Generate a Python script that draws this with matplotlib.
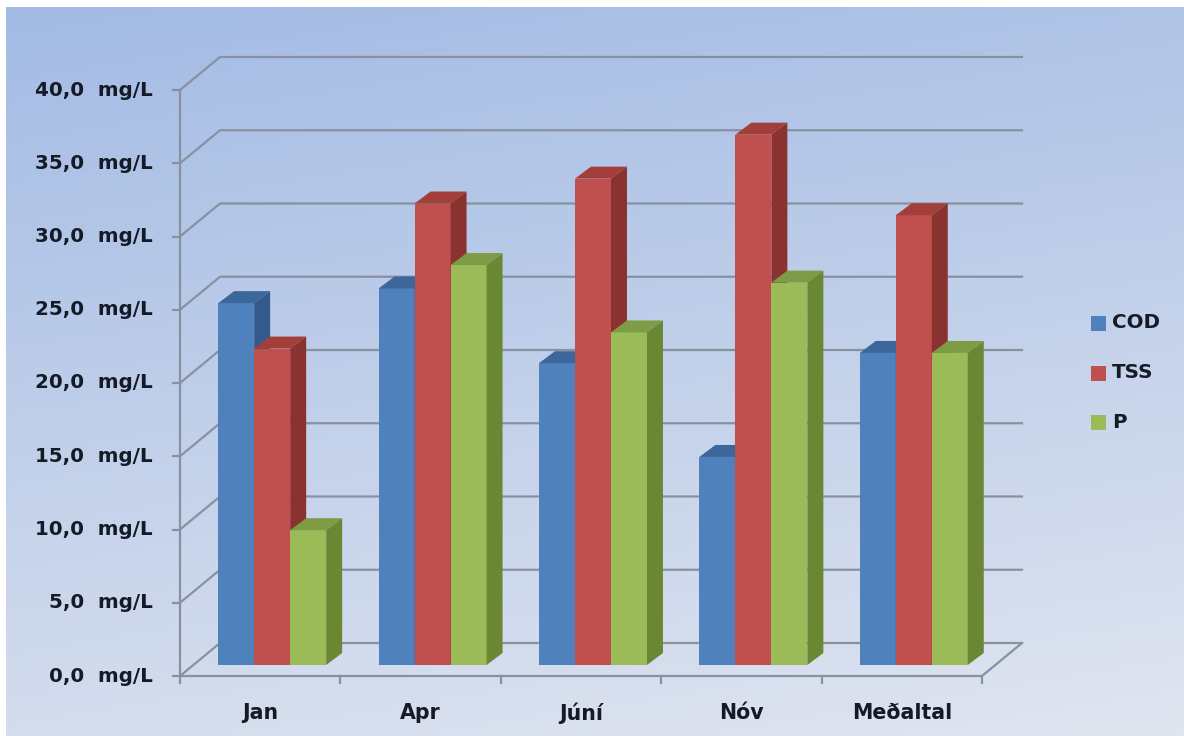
import numpy as np
import matplotlib
matplotlib.use("Agg")
import matplotlib.pyplot as plt
from matplotlib.patches import Polygon, Rectangle

# -----------------------------------------------------------------------------
# data (mg/L)
# -----------------------------------------------------------------------------
categories = ["Jan", "Apr", "Júní", "Nóv", "Meðaltal"]
series = ["COD", "TSS", "P"]
cod = [24.7, 25.7, 20.6, 14.2, 21.3]
tss = [21.6, 31.5, 33.2, 36.2, 30.7]
p_vals = [9.2, 27.3, 22.7, 26.1, 21.3]
y_ticks = [0, 5, 10, 15, 20, 25, 30, 35, 40]

front_col = ["#4f81bd", "#c0504d", "#9bbb59"]
top_col = ["#3c679b", "#a33f3b", "#7e9c45"]
side_col = ["#335a8a", "#8a322f", "#6a8734"]

# -----------------------------------------------------------------------------
# pseudo 3D geometry (x: category units, y: value units)
# -----------------------------------------------------------------------------
PX_X = 160.4      # px per category
PX_Y = 14.65      # px per mg/L
X0, Y0 = 180, 676  # pixel of origin on front plane

WDX, WDY = 40 / PX_X, 33 / PX_Y     # wall depth
BDX, BDY = 16 / PX_X, 12 / PX_Y     # bar depth
FDX, FDY = 13.3 / PX_X, 11 / PX_Y   # bar front offset from floor front edge
BAR_W = 36 / PX_X
GROUP_OFF = 0.155
GRID_C = "#8791a0"
TXT_C = "#141a26"

fig = plt.figure(figsize=(11.84, 7.36), dpi=100)
ax = fig.add_axes([0, 0, 1, 1])
ax.set_xlim((0 - X0) / PX_X, (1184 - X0) / PX_X)
ax.set_ylim((Y0 - 736) / PX_Y, (Y0 - 0) / PX_Y)
ax.axis("off")

def px(x):
    return (x - X0) / PX_X

def py(y):
    return (Y0 - y) / PX_Y

# background gradient
ny, nx = 200, 200
yy, xx = np.mgrid[0:1:ny * 1j, 0:1:nx * 1j]
t = np.clip(0.8 * yy + 0.2 * xx, 0, 1)
top_rgb = np.array([163, 187, 228]) / 255
bot_rgb = np.array([224, 229, 240]) / 255
img = top_rgb[None, None, :] * (1 - t[..., None]) + bot_rgb[None, None, :] * t[..., None]
ax.imshow(img, extent=(px(6), px(1184), py(736), py(7)), aspect="auto", zorder=0)

# walls / grid
n = len(categories)
for v in y_ticks:
    ax.plot([0, WDX, n + WDX], [v, v + WDY, v + WDY], color=GRID_C, lw=1.6, zorder=1)
    ax.plot([-7 / PX_X, 0], [v, v], color=GRID_C, lw=1.6, zorder=1)
    ax.text(px(153), v, f"{v:.1f}".replace(".", ",") + "  mg/L", ha="right", va="center",
            fontsize=14.3, fontweight="bold", color=TXT_C, family="DejaVu Sans")
ax.plot([0, 0], [0, y_ticks[-1]], color=GRID_C, lw=1.6, zorder=1)
ax.plot([0, n, n + WDX], [0, 0, WDY], color=GRID_C, lw=1.6, zorder=1)
for i in range(n + 1):
    ax.plot([i, i], [0, -7 / PX_Y], color=GRID_C, lw=1.6, zorder=1)
for i, c in enumerate(categories):
    ax.text(i + 0.5, py(713), c, ha="center", va="center", fontsize=14.8,
            fontweight="bold", color=TXT_C, family="DejaVu Sans")

# bars
values = [cod, tss, p_vals]
z = 2
for i in range(n):
    for s in range(len(series)):
        v = values[s][i]
        x0 = i + GROUP_OFF + s * BAR_W + FDX
        b0 = FDY
        ax.bar(x0, v, bottom=b0, width=BAR_W, align="edge", color=front_col[s],
               edgecolor="none", zorder=z)
        top = Polygon([(x0, b0 + v), (x0 + BAR_W, b0 + v),
                       (x0 + BAR_W + BDX, b0 + v + BDY), (x0 + BDX, b0 + v + BDY)],
                      closed=True, facecolor=top_col[s], edgecolor="none", zorder=z)
        side = Polygon([(x0 + BAR_W, b0), (x0 + BAR_W + BDX, b0 + BDY),
                        (x0 + BAR_W + BDX, b0 + v + BDY), (x0 + BAR_W, b0 + v)],
                       closed=True, facecolor=side_col[s], edgecolor="none", zorder=z)
        ax.add_patch(top)
        ax.add_patch(side)
        z += 1

# legend
leg_y = [323, 373, 422]
for s, name in enumerate(series):
    ax.add_patch(Rectangle((px(1091), py(leg_y[s] + 7.5)), 15 / PX_X, 15 / PX_Y,
                           facecolor=front_col[s], edgecolor="none", zorder=5))
    ax.text(px(1112), py(leg_y[s]), name, ha="left", va="center", fontsize=14.3,
            fontweight="bold", color=TXT_C, family="DejaVu Sans")

fig.savefig("out.png", dpi=100)
